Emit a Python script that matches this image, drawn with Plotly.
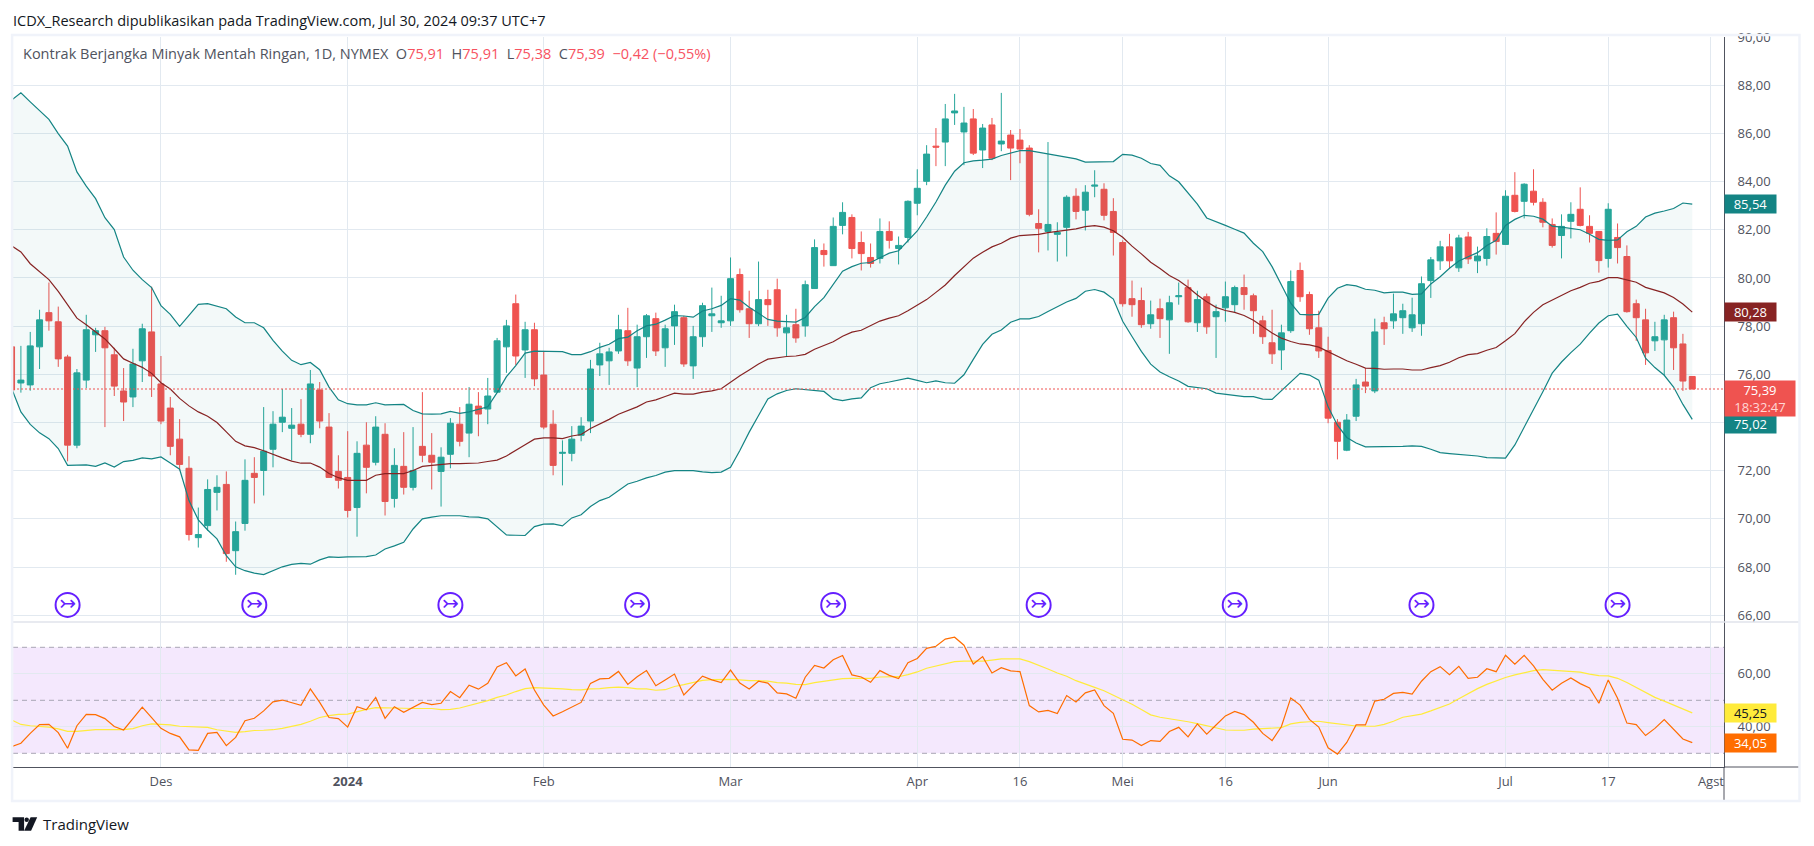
import pandas as pd
import plotly.graph_objects as go
from plotly.subplots import make_subplots

# trading days, nymex holidays dropped, two empty days on the right for the Agst tick
holidays = ['2023-11-23', '2023-12-25', '2024-01-01', '2024-01-15', '2024-02-19',
            '2024-03-29', '2024-05-27', '2024-06-19', '2024-07-04']
all_days = pd.bdate_range('2023-11-08', '2024-08-01').strftime('%Y-%m-%d')
all_days = [d for d in all_days if d not in holidays]
dates = all_days[:181]

tick_dates = ['2023-12-01', '2024-01-02', '2024-02-01', '2024-03-01', '2024-04-01', '2024-04-16',
              '2024-05-01', '2024-05-16', '2024-06-03', '2024-07-01', '2024-07-17', '2024-08-01']
tick_text = ['Des', '<b>2024</b>', 'Feb', 'Mar', 'Apr', '16', 'Mei', '16', 'Jun', 'Jul', '17', 'Agst']
price_ticks = [66, 68, 70, 72, 74, 76, 78, 80, 82, 84, 86, 88, 90]
# 74,00 sits under the 75,02 tag in the original
price_tick_text = ['66,00', '68,00', '70,00', '72,00', '', '76,00', '78,00', '80,00', '82,00', '84,00',
                   '86,00', '88,00', '90,00']
rsi_ticks = [40, 60]
rsi_tick_text = ['40,00', '60,00']
rollover_bars = [6, 26, 47, 67, 88, 110, 131, 151, 172]

opens = [77.14, 75.64, 75.56, 77.14, 78.56, 78.18, 76.72, 73.06, 75.76, 77.64,
         77.81, 76.81, 75.31, 75.06, 76.56, 77.76, 75.6, 74.6, 73.31, 72.1,
         69.22, 69.72, 71.1, 71.43, 68.68, 69.81, 71.89, 72.01, 72.89, 74.01,
         73.76, 73.93, 73.51, 75.35, 73.81, 71.97, 71.72, 70.47, 73.06, 72.35,
         73.51, 70.85, 72.18, 71.31, 73.01, 72.64, 71.97, 72.68, 73.93, 73.56,
         74.68, 74.56, 75.26, 77.14, 78.93, 77.01, 77.85, 75.97, 73.93, 72.72,
         72.72, 73.47, 74.06, 76.39, 76.56, 76.97, 77.81, 76.26, 77.56, 78.31,
         77.1, 78.01, 78.35, 76.35, 77.56, 78.43, 78.14, 78.22, 80.14, 78.72,
         78.1, 79.1, 79.51, 77.72, 78.06, 78.01, 79.56, 81.14, 80.51, 82.18,
         82.51, 81.47, 80.85, 80.81, 81.93, 81.22, 81.68, 83.1, 84.01, 85.47,
         85.64, 86.85, 86.06, 86.6, 85.31, 86.35, 85.56, 85.93, 85.72, 85.39,
         82.26, 81.93, 81.81, 82.1, 83.39, 82.81, 83.81, 83.68, 82.76, 81.47,
         79.14, 79.06, 78.1, 78.72, 78.26, 79.22, 79.6, 78.14, 79.22, 78.39,
         78.76, 78.89, 79.6, 79.26, 78.22, 77.31, 77.01, 77.81, 80.31, 79.31,
         77.93, 76.99, 74.01, 72.85, 74.26, 75.68, 75.31, 78.14, 78.22, 78.35,
         77.93, 78.1, 79.89, 80.71, 81.29, 80.42, 81.7, 80.71, 80.81, 81.85,
         81.39, 83.43, 83.18, 83.6, 83.14, 82.22, 81.76, 82.35, 82.85, 82.14,
         81.93, 80.81, 81.68, 80.89, 78.93, 78.26, 77.39, 77.43, 78.35, 77.26,
         75.91]
highs = [77.14, 77.18, 77.76, 78.68, 79.81, 78.81, 76.81, 76.22, 78.47, 77.93,
         77.97, 77.1, 76.26, 77.06, 78.1, 79.64, 76.76, 75.06, 74.14, 72.6,
         70.47, 71.64, 71.81, 71.97, 69.89, 72.47, 72.56, 74.64, 74.47, 75.39,
         74.6, 74.97, 76.18, 75.68, 74.39, 72.64, 73.64, 73.22, 74.01, 74.26,
         73.97, 72.93, 73.6, 73.81, 75.26, 73.56, 72.97, 74.18, 74.64, 75.47,
         75.26, 75.85, 77.51, 78.26, 79.31, 78.18, 78.14, 76.97, 74.51, 73.26,
         73.85, 74.22, 76.6, 77.31, 77.1, 78.47, 78.76, 78.06, 78.5, 78.56,
         78.06, 78.89, 78.43, 78.01, 78.97, 79.6, 79.26, 80.85, 80.39, 79.47,
         80.68, 79.51, 79.97, 78.47, 78.72, 79.89, 81.6, 81.43, 82.51, 83.14,
         82.64, 81.93, 81.43, 82.47, 82.35, 81.72, 83.22, 84.51, 85.51, 86.22,
         87.22, 87.64, 87.1, 87.01, 86.39, 86.64, 87.68, 86.14, 86.18, 85.51,
         82.85, 85.64, 82.31, 83.43, 83.72, 83.85, 84.47, 83.93, 83.31, 81.56,
         79.89, 79.6, 79.06, 79.14, 79.26, 79.81, 79.93, 79.47, 79.35, 78.89,
         79.85, 79.68, 80.14, 79.35, 78.43, 78.68, 78.06, 80.31, 80.64, 79.43,
         78.64, 77.56, 74.14, 74.35, 75.81, 76.26, 78.31, 78.39, 79.35, 78.93,
         79.18, 80.06, 80.87, 81.54, 81.83, 81.79, 81.91, 81.3, 82.06, 82.72,
         83.64, 84.39, 83.93, 84.51, 83.31, 82.47, 82.64, 83.14, 83.76, 82.6,
         81.95, 83.1, 82.26, 81.35, 79.1, 78.72, 78.18, 78.47, 78.6, 77.68,
         75.91]
lows = [75.35, 75.24, 75.32, 76.22, 77.81, 76.31, 72.39, 72.93, 75.43, 76.93,
        73.81, 75.1, 74.06, 74.64, 75.68, 75.06, 73.93, 72.64, 72.01, 69.1,
        68.81, 69.51, 70.35, 68.22, 67.68, 69.51, 70.64, 70.97, 72.14, 73.6,
        72.43, 73.39, 73.14, 73.76, 71.72, 71.26, 70.06, 69.26, 71.06, 72.22,
        70.14, 70.47, 71.01, 71.18, 72.35, 71.22, 70.51, 72.1, 73.01, 72.56,
        73.43, 73.93, 75.26, 76.06, 76.39, 75.85, 75.51, 73.72, 71.81, 71.39,
        72.39, 73.22, 73.56, 75.93, 75.56, 76.85, 76.35, 75.47, 76.68, 76.76,
        76.31, 77.22, 76.31, 75.81, 77.14, 77.76, 77.93, 78.01, 78.56, 77.51,
        78.0, 78.01, 77.56, 76.76, 77.31, 77.56, 79.56, 80.47, 80.51, 81.81,
        80.81, 80.31, 80.43, 80.6, 81.22, 80.56, 81.47, 82.6, 83.85, 84.64,
        84.64, 86.35, 84.68, 85.1, 84.56, 84.89, 85.26, 84.06, 84.76, 82.56,
        81.06, 81.14, 80.68, 80.89, 82.43, 81.97, 83.35, 82.39, 80.93, 78.81,
        78.39, 77.93, 77.89, 77.51, 76.85, 78.89, 78.14, 77.76, 77.68, 76.68,
        78.18, 78.56, 78.68, 77.68, 77.26, 76.43, 76.18, 77.72, 79.01, 77.64,
        76.68, 73.97, 72.47, 72.81, 74.06, 75.22, 75.22, 77.22, 77.89, 77.68,
        77.76, 77.6, 79.17, 80.33, 80.37, 80.25, 80.58, 80.2, 80.51, 80.97,
        81.39, 82.72, 82.47, 83.01, 82.1, 81.26, 80.81, 81.64, 82.14, 81.47,
        80.22, 80.43, 80.6, 78.56, 77.39, 76.39, 76.97, 75.97, 76.18, 75.31,
        75.38]
closes = [75.35, 75.76, 77.18, 78.26, 78.22, 76.64, 73.06, 76.06, 77.85, 77.81,
          77.1, 75.51, 74.85, 76.43, 77.89, 75.93, 74.06, 73.01, 72.26, 69.35,
          69.35, 71.22, 71.31, 68.56, 69.47, 71.6, 71.72, 72.81, 73.93, 74.22,
          73.89, 73.51, 75.6, 74.06, 71.72, 71.6, 70.35, 72.72, 72.14, 73.81,
          70.72, 72.22, 71.31, 72.01, 72.64, 72.35, 72.56, 73.97, 73.22, 74.76,
          74.35, 75.1, 77.39, 78.01, 76.76, 77.85, 75.81, 73.81, 72.22, 72.76,
          73.31, 73.85, 76.22, 76.85, 76.93, 77.85, 76.56, 77.56, 78.43, 76.97,
          77.89, 78.6, 76.43, 77.56, 78.85, 78.51, 78.22, 79.97, 78.68, 78.1,
          79.1, 78.89, 77.93, 77.93, 77.51, 79.72, 81.26, 80.97, 82.14, 82.72,
          81.22, 81.01, 80.6, 81.93, 81.56, 81.35, 83.18, 83.72, 85.14, 85.43,
          86.6, 86.93, 86.43, 85.18, 86.22, 84.97, 85.68, 85.39, 85.35, 82.64,
          82.06, 82.22, 81.89, 83.35, 82.76, 83.56, 83.85, 82.6, 81.89, 78.93,
          78.89, 78.06, 78.47, 78.31, 78.97, 79.26, 78.18, 79.1, 77.97, 78.6,
          79.22, 79.6, 79.31, 78.64, 77.56, 76.85, 77.72, 79.85, 79.22, 77.89,
          76.97, 74.18, 73.22, 74.1, 75.56, 75.51, 77.76, 77.89, 78.51, 78.64,
          78.47, 79.76, 80.75, 81.29, 80.71, 81.66, 80.79, 80.91, 81.72, 81.51,
          83.39, 82.76, 83.89, 83.14, 82.31, 81.35, 82.14, 82.64, 82.18, 81.85,
          80.72, 82.85, 81.26, 78.6, 78.35, 76.89, 77.56, 78.26, 77.1, 75.72,
          75.39]

bb_upper = [87.38, 87.68, 87.31, 86.96, 86.58, 85.99, 85.47, 84.4, 83.81, 83.29,
            82.5, 82.01, 80.87, 80.32, 79.93, 79.6, 78.85, 78.49, 77.99, 78.45,
            78.9, 78.93, 78.82, 78.72, 78.38, 78.14, 78.14, 77.93, 77.41, 76.96,
            76.58, 76.4, 76.49, 76.19, 75.47, 74.94, 74.78, 74.73, 74.73, 74.82,
            74.73, 74.75, 74.75, 74.5, 74.36, 74.35, 74.36, 74.46, 74.38, 74.44,
            74.54, 74.65, 75.24, 75.9, 76.36, 76.88, 76.96, 76.96, 76.96, 76.94,
            76.82, 76.82, 76.94, 77.12, 77.25, 77.48, 77.54, 77.81, 78.01, 78.08,
            78.25, 78.44, 78.42, 78.37, 78.63, 78.72, 78.86, 79.14, 79.08, 78.78,
            78.53, 78.28, 78.21, 78.18, 78.17, 78.36, 78.81, 79.18, 79.72, 80.28,
            80.47, 80.61, 80.64, 80.83, 81.03, 81.13, 81.55, 81.95, 82.53, 83.15,
            83.85, 84.43, 84.78, 84.86, 84.89, 84.93, 85.08, 85.18, 85.28, 85.28,
            85.21, 85.15, 85.06, 85.01, 84.94, 84.81, 84.81, 84.83, 84.83, 85.13,
            85.1, 84.97, 84.75, 84.67, 84.24, 83.99, 83.53, 83.06, 82.49, 82.35,
            82.18, 82.02, 81.86, 81.44, 81.09, 80.47, 79.71, 78.95, 78.49, 78.47,
            78.49, 79.16, 79.57, 79.72, 79.67, 79.53, 79.49, 79.38, 79.41, 79.41,
            79.32, 79.34, 79.75, 80.05, 80.4, 80.7, 80.88, 81.05, 81.35, 81.56,
            82.18, 82.43, 82.6, 82.56, 82.44, 82.15, 82.11, 82.07, 82.0, 81.81,
            81.6, 81.56, 81.58, 81.92, 82.14, 82.53, 82.69, 82.78, 82.88, 83.11,
            83.06]
bb_basis = [81.33, 81.08, 80.59, 80.27, 79.93, 79.44, 78.89, 78.33, 78.06, 77.75,
            77.47, 77.06, 76.64, 76.46, 76.29, 76.04, 75.65, 75.39, 75.0, 74.69,
            74.44, 74.26, 74.0, 73.61, 73.22, 73.03, 72.96, 72.83, 72.67, 72.53,
            72.4, 72.31, 72.32, 72.15, 71.88, 71.71, 71.6, 71.6, 71.6, 71.81,
            71.88, 71.88, 71.88, 72.01, 72.18, 72.22, 72.26, 72.29, 72.29, 72.29,
            72.32, 72.38, 72.44, 72.61, 72.83, 73.08, 73.31, 73.36, 73.36, 73.33,
            73.44, 73.5, 73.75, 73.93, 74.13, 74.34, 74.5, 74.65, 74.85, 74.94,
            75.08, 75.22, 75.18, 75.18, 75.26, 75.31, 75.4, 75.68, 75.94, 76.18,
            76.43, 76.63, 76.69, 76.74, 76.76, 76.83, 77.04, 77.19, 77.35, 77.58,
            77.75, 77.83, 78.03, 78.21, 78.33, 78.43, 78.64, 78.86, 79.1, 79.4,
            79.71, 80.1, 80.47, 80.82, 81.07, 81.29, 81.44, 81.65, 81.76, 81.78,
            81.81, 81.88, 81.93, 81.99, 82.04, 82.13, 82.17, 82.11, 81.96, 81.69,
            81.32, 81.0, 80.65, 80.39, 80.1, 79.89, 79.61, 79.29, 79.01, 78.78,
            78.65, 78.57, 78.44, 78.24, 77.96, 77.71, 77.5, 77.36, 77.26, 77.22,
            77.13, 76.94, 76.74, 76.56, 76.42, 76.26, 76.25, 76.21, 76.22, 76.22,
            76.18, 76.18, 76.28, 76.36, 76.5, 76.69, 76.82, 76.86, 77.0, 77.11,
            77.39, 77.69, 78.18, 78.57, 78.89, 79.08, 79.26, 79.47, 79.61, 79.78,
            79.86, 80.01, 80.01, 79.92, 79.82, 79.61, 79.5, 79.38, 79.19, 78.92,
            78.58]
bb_lower = [75.42, 74.44, 73.92, 73.57, 73.33, 72.92, 72.22, 72.22, 72.24, 72.18,
            72.32, 72.15, 72.38, 72.43, 72.53, 72.49, 72.57, 72.32, 72.06, 70.76,
            69.96, 69.54, 69.17, 68.47, 68.01, 67.85, 67.75, 67.69, 67.85, 68.01,
            68.11, 68.15, 68.12, 68.3, 68.42, 68.4, 68.42, 68.43, 68.43, 68.5,
            68.75, 68.88, 69.03, 69.58, 70.0, 70.07, 70.13, 70.13, 70.13, 70.08,
            70.07, 70.0, 69.65, 69.33, 69.32, 69.31, 69.68, 69.78, 69.79, 69.71,
            70.04, 70.17, 70.51, 70.76, 70.9, 71.18, 71.45, 71.56, 71.7, 71.8,
            71.94, 72.0, 72.0, 72.0, 71.95, 71.92, 71.94, 72.14, 72.84, 73.6,
            74.29, 74.98, 75.19, 75.33, 75.4, 75.37, 75.33, 75.29, 74.98, 74.91,
            74.98, 75.02, 75.44, 75.61, 75.68, 75.77, 75.84, 75.75, 75.65, 75.73,
            75.65, 75.63, 75.98, 76.62, 77.24, 77.66, 77.84, 78.16, 78.3, 78.3,
            78.4, 78.61, 78.82, 79.0, 79.15, 79.45, 79.52, 79.41, 79.12, 78.2,
            77.57, 76.95, 76.42, 76.1, 75.9, 75.72, 75.5, 75.44, 75.4, 75.22,
            75.17, 75.12, 75.07, 75.07, 74.97, 74.96, 75.31, 75.69, 76.04, 75.97,
            75.76, 74.65, 73.89, 73.38, 73.15, 72.99, 72.99, 72.99, 72.99, 73.01,
            73.03, 73.01, 72.89, 72.75, 72.71, 72.68, 72.67, 72.61, 72.54, 72.54,
            72.52, 73.07, 73.8, 74.52, 75.28, 76.05, 76.51, 76.9, 77.25, 77.71,
            78.13, 78.43, 78.5, 77.99, 77.53, 76.67, 76.28, 75.96, 75.47, 74.75,
            74.13]

rsi = [32.5, 33.8, 37.5, 40.8, 40.9, 37.8, 31.9, 40.4, 44.7, 44.6,
       43.1, 40.1, 38.8, 43.1, 47.4, 43.5, 39.4, 37.5, 36.2, 31.3,
       31.1, 37.5, 37.9, 32.9, 36.0, 42.3, 43.2, 46.0, 49.4, 50.1,
       49.2, 48.1, 54.3, 49.2, 43.5, 43.1, 39.9, 47.6, 46.4, 51.1,
       43.2, 47.6, 45.5, 47.4, 49.2, 48.4, 48.9, 53.3, 51.0, 55.7,
       54.2, 56.4, 62.6, 64.2, 59.2, 61.8, 53.9, 48.2, 44.1, 45.7,
       47.6, 49.2, 56.4, 58.1, 58.3, 60.9, 56.0, 58.9, 61.2, 55.5,
       57.7, 59.9, 52.0, 55.5, 59.1, 57.7, 56.7, 61.4, 56.5, 54.3,
       57.2, 56.5, 52.8, 52.4, 50.8, 58.7, 63.2, 62.2, 65.3, 66.9,
       59.6, 58.8, 56.8, 61.2, 59.4, 58.2, 64.2, 65.8, 69.6, 70.4,
       73.1, 73.8, 70.8, 63.7, 66.5, 60.3, 62.3, 61.1, 60.8, 48.0,
       45.6, 46.2, 45.0, 51.8, 49.4, 52.8, 53.9, 48.0, 45.1, 35.3,
       35.0, 32.9, 34.8, 34.5, 38.2, 39.8, 36.2, 41.1, 37.2, 40.7,
       44.1, 45.8, 44.6, 41.7, 37.5, 34.8, 40.1, 50.9, 48.2, 42.8,
       39.9, 32.1, 29.7, 34.1, 40.7, 40.7, 49.7, 50.4, 52.6, 53.0,
       52.3, 57.2, 60.8, 62.7, 59.7, 62.8, 58.3, 58.7, 61.9, 60.8,
       67.0, 63.6, 67.0, 63.0, 57.9, 53.8, 56.4, 58.4, 56.3, 54.7,
       48.9, 57.7, 50.8, 41.4, 40.8, 36.7, 39.4, 42.7, 39.1, 35.4,
       34.05]
rsi_ma = [42.6, 40.9, 40.4, 40.2, 39.9, 39.2, 38.3, 38.3, 38.7, 38.9,
          38.9, 38.9, 38.9, 39.3, 40.4, 41.1, 40.9, 40.7, 40.2, 40.1,
          40.1, 39.8, 38.9, 38.3, 37.9, 38.2, 38.6, 38.7, 38.9, 39.4,
          40.1, 40.9, 42.1, 43.5, 44.2, 44.7, 44.8, 45.8, 46.6, 47.2,
          47.2, 47.2, 47.0, 46.9, 46.9, 46.9, 46.5, 46.6, 47.1, 48.0,
          49.1, 49.9, 51.1, 52.0, 53.3, 54.4, 54.8, 54.7, 54.4, 54.3,
          54.0, 53.9, 54.3, 54.4, 54.8, 55.0, 54.8, 54.3, 54.3, 53.8,
          54.0, 55.2, 55.9, 56.8, 57.5, 57.8, 57.9, 57.9, 57.7, 57.4,
          57.4, 57.2, 56.7, 56.5, 56.0, 55.9, 56.7, 57.2, 57.7, 58.2,
          58.3, 58.3, 58.3, 58.8, 58.8, 58.9, 59.7, 60.7, 62.1, 63.0,
          63.7, 64.6, 64.8, 64.8, 64.8, 65.2, 65.6, 65.6, 65.6, 64.6,
          63.3, 61.8, 60.3, 59.1, 57.4, 56.0, 54.9, 53.6, 52.0, 50.4,
          48.5, 46.5, 44.5, 43.6, 43.1, 42.6, 41.9, 41.2, 40.4, 39.8,
          38.8, 38.7, 38.7, 39.1, 39.3, 39.4, 39.7, 41.1, 41.7, 41.9,
          42.1, 41.6, 41.1, 40.7, 40.3, 40.2, 40.2, 40.9, 42.1, 43.6,
          44.2, 44.8, 46.0, 47.2, 48.6, 50.6, 52.6, 54.4, 56.0, 57.4,
          58.6, 59.6, 60.3, 61.2, 61.6, 61.3, 61.2, 60.8, 60.6, 59.9,
          59.3, 59.2, 58.3, 56.7, 54.9, 53.0, 51.1, 49.7, 48.2, 46.7,
          45.25]

up_color = '#26a69a'
down_color = '#ef5350'
band_color = '#138484'
basis_color = '#872323'
roll_color = '#651fff'
grid_color = '#e2e9f0'
axis_color = '#50535e'
text_font = 'Open Sans'

# pixel layout of the page
L, R, TOP, SEP, BOTTOM, OUTER = 13.4, 1724.5, 37, 622, 767, 1800


def fx(px):
    return (px - L) / (R - L)


def fy(py):
    return (BOTTOM - py) / (BOTTOM - TOP)


fig = make_subplots(rows=2, cols=1, shared_xaxes=True, vertical_spacing=0,
                    row_heights=[SEP - TOP, BOTTOM - SEP])

fig.add_trace(go.Scatter(x=dates, y=bb_upper, mode='lines', line=dict(color=band_color, width=1.2)), row=1, col=1)
fig.add_trace(go.Scatter(x=dates, y=bb_lower, mode='lines', line=dict(color=band_color, width=1.2),
                         fill='tonexty', fillcolor='rgba(19,132,132,0.05)'), row=1, col=1)
fig.add_trace(go.Scatter(x=dates, y=bb_basis, mode='lines', line=dict(color=basis_color, width=1.2)), row=1, col=1)
fig.add_trace(go.Candlestick(x=dates, open=opens, high=highs, low=lows, close=closes, whiskerwidth=0,
                             increasing=dict(line=dict(color=up_color, width=1), fillcolor=up_color),
                             decreasing=dict(line=dict(color=down_color, width=1), fillcolor=down_color)),
              row=1, col=1)

# rollover marks along the bottom of the price pane
roll_x = [dates[i] for i in rollover_bars]
fig.add_trace(go.Scatter(x=roll_x, y=[66.43] * len(roll_x), mode='markers+text', text=['↣'] * len(roll_x),
                         textposition='middle center', textfont=dict(family='DejaVu Sans', size=20, color=roll_color),
                         marker=dict(symbol='circle-open', size=24, color=roll_color, line=dict(color=roll_color, width=2))),
              row=1, col=1)

fig.add_trace(go.Scatter(x=dates, y=rsi_ma, mode='lines', line=dict(color='#ffeb3b', width=1.2)), row=2, col=1)
fig.add_trace(go.Scatter(x=dates, y=rsi, mode='lines', line=dict(color='#ff6d00', width=1.2)), row=2, col=1)

fig.update_xaxes(type='category', categoryorder='array', categoryarray=all_days, range=[0.154, 183.4],
                 tickmode='array', tickvals=tick_dates, ticktext=tick_text, showgrid=True, gridcolor=grid_color,
                 gridwidth=1, zeroline=False, rangeslider_visible=False, ticks='', ticklabelstandoff=2,
                 tickfont=dict(family=text_font, size=13, color=axis_color))
fig.update_xaxes(showticklabels=False, showline=False, row=1, col=1)
fig.update_xaxes(showticklabels=True, showline=True, linecolor=axis_color, linewidth=1, row=2, col=1)

y_style = dict(side='right', showgrid=True, gridcolor=grid_color, gridwidth=1, zeroline=False, showline=True,
               linecolor=axis_color, linewidth=1, tickmode='array', ticks='', ticklabelstandoff=10,
               tickfont=dict(family=text_font, size=13, color=axis_color))
fig.update_yaxes(range=[65.72, 90.0], tickvals=price_ticks, ticktext=price_tick_text, row=1, col=1, **y_style)
fig.update_yaxes(range=[24.83, 79.55], tickvals=rsi_ticks, ticktext=rsi_tick_text, row=2, col=1, **y_style)

shapes = [
    # last price line
    dict(type='line', xref='x domain', x0=0, x1=1, yref='y', y0=closes[-1], y1=closes[-1],
         line=dict(color=down_color, width=1, dash='2px,2px')),
    # rsi band with its dashed bounds
    dict(type='rect', xref='x2 domain', x0=0, x1=1, yref='y2', y0=30, y1=70, layer='below',
         fillcolor='#f4e8fd', line=dict(width=0)),
]
for level in [70, 50, 30]:
    shapes.append(dict(type='line', xref='x2 domain', x0=0, x1=1, yref='y2', y0=level, y1=level, layer='below',
                       line=dict(color='#a8a5b5', width=1, dash='5px,4px')))
# pane separator, time axis line over the price scale, outer frame
shapes.append(dict(type='line', xref='paper', yref='paper', x0=0, x1=fx(OUTER), y0=fy(SEP), y1=fy(SEP),
                   line=dict(color='#e0e3eb', width=1.5)))
shapes.append(dict(type='line', xref='paper', yref='paper', x0=1, x1=fx(OUTER), y0=0, y1=0,
                   line=dict(color=axis_color, width=1)))
shapes.append(dict(type='line', xref='paper', yref='paper', x0=1, x1=1, y0=fy(801), y1=0,
                   line=dict(color=axis_color, width=1)))
shapes.append(dict(type='rect', xref='paper', yref='paper', x0=fx(12.5), x1=fx(OUTER), y0=fy(801), y1=fy(35),
                   line=dict(color='#f0f3fa', width=2.5)))


def logo_path(points):
    return 'M' + ' L'.join(f'{fx(a)},{fy(b)}' for a, b in points) + ' Z'


shapes.append(dict(type='path', xref='paper', yref='paper', line=dict(width=0), fillcolor='#131722',
                   path=logo_path([(13, 817.3), (24.5, 817.3), (24.5, 830.7), (19, 830.7), (19, 822), (13, 822)])))
shapes.append(dict(type='circle', xref='paper', yref='paper', line=dict(width=0), fillcolor='#131722',
                   x0=fx(24.9), x1=fx(29.3), y0=fy(822), y1=fy(817.4)))
shapes.append(dict(type='path', xref='paper', yref='paper', line=dict(width=0), fillcolor='#131722',
                   path=logo_path([(31, 817.3), (37.6, 817.3), (31.5, 830.7), (24.5, 830.7)])))
fig.update_layout(shapes=shapes)

up_red = '#f7525f'
header = ('Kontrak Berjangka Minyak Mentah Ringan, 1D, NYMEX&nbsp;&nbsp;'
          f'O<span style="color:{up_red}">75,91</span>&nbsp;&nbsp;'
          f'H<span style="color:{up_red}">75,91</span>&nbsp;&nbsp;'
          f'L<span style="color:{up_red}">75,38</span>&nbsp;&nbsp;'
          f'C<span style="color:{up_red}">75,39</span>&nbsp;&nbsp;'
          f'<span style="color:{up_red}">−0,42 (−0,55%)</span>')

notes = [
    dict(text='ICDX_Research dipublikasikan pada TradingView.com, Jul 30, 2024 09:37 UTC+7', xref='paper', yref='paper',
         x=fx(11), y=fy(20), xanchor='left', yanchor='middle', showarrow=False,
         font=dict(family=text_font, size=14.5, color='#131722')),
    dict(text=header, xref='paper', yref='paper', x=fx(21), y=fy(53), xanchor='left', yanchor='middle',
         showarrow=False, font=dict(family=text_font, size=14.5, color=axis_color)),
    dict(text='TradingView', xref='paper', yref='paper', x=fx(41), y=fy(824), xanchor='left', yanchor='middle',
         showarrow=False, font=dict(family=text_font, size=15, color='#131722')),
]


def value_label(text, value, yref, bg, color='white', yshift=0):
    return dict(text=text, xref='paper', x=1, xanchor='left', yref=yref, y=value, yanchor='middle', yshift=yshift,
                showarrow=False, bgcolor=bg, width=51, height=18, borderpad=0, align='center',
                font=dict(family=text_font, size=13, color=color))


notes.append(value_label('85,54', bb_upper[-1], 'y', band_color))
notes.append(value_label('80,28', bb_basis[-1], 'y', basis_color))
notes.append(value_label('75,02', bb_lower[-1], 'y', band_color, yshift=-5))
notes.append(value_label('45,25', rsi_ma[-1], 'y2', '#ffeb3b', color='#131722'))
notes.append(value_label('34,05', rsi[-1], 'y2', '#ff6d00'))
notes.append(dict(text='75,39<br><span style="color:#ffd7d5">18:32:47</span>', xref='paper', x=1, xanchor='left',
                  yref='y', y=closes[-1], yanchor='top', yshift=9, showarrow=False, bgcolor=down_color, width=70,
                  height=35, borderpad=0, align='center', font=dict(family=text_font, size=13, color='white')))

fig.update_layout(
    annotations=notes,
    width=1814,
    height=846,
    autosize=False,
    showlegend=False,
    boxgap=0.2,
    boxgroupgap=0.2,
    paper_bgcolor='white',
    plot_bgcolor='white',
    margin=dict(l=L, r=1814 - R, t=TOP, b=846 - BOTTOM, pad=0),
)

fig.write_html("out.html", config={'displayModeBar': False}, post_script="document.body.style.margin='0';")
